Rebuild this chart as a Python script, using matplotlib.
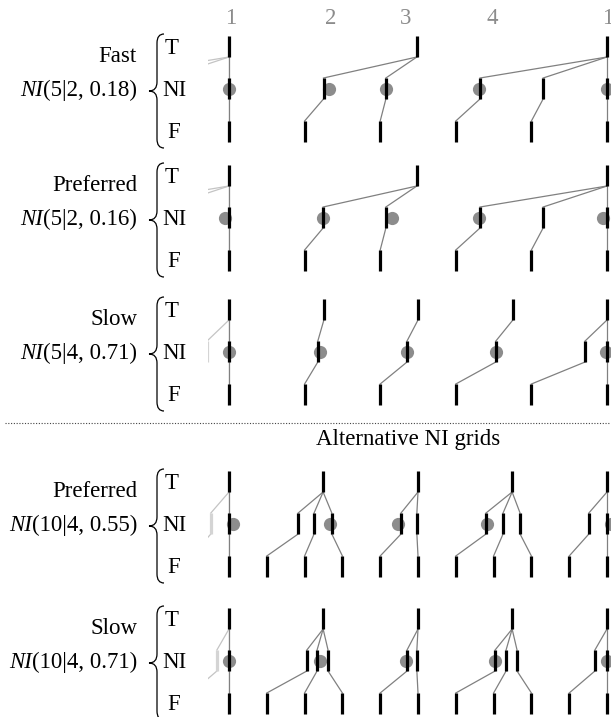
"""
NI grid diagrams: T / NI / F levels per cycle, several grid variants
"""

import matplotlib
matplotlib.use("Agg")
import matplotlib.pyplot as plt
from matplotlib.path import Path
from matplotlib.patches import PathPatch, Rectangle

plt.rcParams['font.family'] = ['Liberation Serif', 'DejaVu Serif']

# period labels along the top (position as fraction of one cycle)
period_labels = ['1', '2', '3', '4', '1']
period_pos = [0.005, 0.27, 0.468, 0.696, 1.003]

row_names = ['Fast', 'Preferred', 'Slow', 'Preferred', 'Slow']
row_params = ['(5|2, 0.18)', '(5|2, 0.16)', '(5|4, 0.71)', '(10|4, 0.55)', '(10|4, 0.71)']

# F grids
f_grid5 = [0.0, 0.2, 0.4, 0.6, 0.8, 1.0]
f_grid10 = [0.0, 0.1, 0.2, 0.3, 0.4, 0.5, 0.6, 0.7, 0.8, 0.9, 1.0]

# row 1 - Fast NI(5|2, 0.18)
t_fast = [0.0, 0.497, 1.0]
ni_fast = [0.0, 0.25, 0.415, 0.664, 0.831, 1.0]
ni_parent_fast = [0, 1, 1, 2, 2, 2]
ni_child_fast = [0, 1, 2, 3, 4, 5]
obs_fast = [0.0, 0.265, 0.415, 0.661, 1.0]

# row 2 - Preferred NI(5|2, 0.16)
t_pref5 = [0.0, 0.497, 1.0]
ni_pref5 = [0.0, 0.249, 0.415, 0.664, 0.831, 1.0]
ni_parent_pref5 = [0, 1, 1, 2, 2, 2]
ni_child_pref5 = [0, 1, 2, 3, 4, 5]
obs_pref5 = [-0.011, 0.249, 0.431, 0.661, 0.989]

# row 3 - Slow NI(5|4, 0.71)
t_slow5 = [0.0, 0.251, 0.5, 0.751, 1.0]
ni_slow5 = [0.0, 0.235, 0.471, 0.706, 0.942, 1.0]
ni_parent_slow5 = [0, 1, 2, 3, 4, 4]
ni_child_slow5 = [0, 1, 2, 3, 4, 5]
obs_slow5 = [0.0, 0.241, 0.471, 0.706, 0.997]

# row 4 - Preferred NI(10|4, 0.55)
t_pref10 = [0.0, 0.249, 0.5, 0.749, 1.0]
ni_pref10 = [0.0, 0.183, 0.225, 0.272, 0.455, 0.497, 0.680, 0.725, 0.770, 0.952, 1.0]
ni_parent_pref10 = [0, 1, 1, 1, 2, 2, 3, 3, 3, 4, 4]
ni_child_pref10 = [0, 1, 2, 3, 4, 5, 6, 7, 8, 9, 10]
obs_pref10 = [0.010, 0.267, 0.447, 0.683, 1.010]

# row 5 - Slow NI(10|4, 0.71)
t_slow10 = [0.0, 0.249, 0.5, 0.749, 1.0]
ni_slow10 = [0.0, 0.206, 0.233, 0.262, 0.471, 0.497, 0.704, 0.733, 0.762, 0.968, 1.0]
ni_parent_slow10 = [0, 1, 1, 1, 2, 2, 3, 3, 3, 4, 4]
ni_child_slow10 = [0, 1, 2, 3, 4, 5, 6, 7, 8, 9, 10]
obs_slow10 = [0.0, 0.241, 0.468, 0.704, 1.0]

rows = [
    (t_fast, ni_fast, ni_parent_fast, f_grid5, ni_child_fast, obs_fast),
    (t_pref5, ni_pref5, ni_parent_pref5, f_grid5, ni_child_pref5, obs_pref5),
    (t_slow5, ni_slow5, ni_parent_slow5, f_grid5, ni_child_slow5, obs_slow5),
    (t_pref10, ni_pref10, ni_parent_pref10, f_grid10, ni_child_pref10, obs_pref10),
    (t_slow10, ni_slow10, ni_parent_slow10, f_grid10, ni_child_slow10, obs_slow10),
]

# layout (pixels from top), cycle start / length in pixels
W, H = 611, 717
X0, CYC = 229.0, 378.0
row_top = [36, 165, 299, 471, 608]
lvl_off = [0, 42, 85]
bar_len = 21
FS = 16.5


def u(px):
    return (px - X0) / CYC


fig = plt.figure(figsize=(W / 100, H / 100), dpi=100)
ax = fig.add_axes([0, 0, 1, 1])
ax.set_xlim(u(0), u(W))
ax.set_ylim(H, 0)
ax.axis('off')


def draw_row(y0, t_pos, ni_pos, parent, f_pos, child, shift=0.0, faded=False, clip=None):
    bar_c = '#d4d4d4' if faded else 'black'
    line_c = '#c4c4c4' if faded else '#808080'
    yt, yn, yf = [y0 + o for o in lvl_off]
    artists = []
    for i, x in enumerate(ni_pos):
        tx = t_pos[parent[i]] + shift
        fx = f_pos[child[i]] + shift
        artists += ax.plot([tx, x + shift], [yt + bar_len, yn], color=line_c, lw=0.9, zorder=1)
        artists += ax.plot([x + shift, fx], [yn + bar_len, yf], color=line_c, lw=0.9, zorder=1)
    for lvl, pos in zip([yt, yn, yf], [t_pos, ni_pos, f_pos]):
        artists.append(ax.vlines([p + shift for p in pos], lvl, lvl + bar_len,
                                 color=bar_c, lw=2.3, zorder=3 if not faded else 1.5))
    if clip is not None:
        for a in artists:
            a.set_clip_path(clip)


def brace(y_top, y_bot, xr=164, xm=157, xt=149):
    ym = (y_top + y_bot) / 2
    r = 9
    verts = [(xr, y_top), (xm, y_top), (xm, y_top + r),
             (xm, ym - r), (xm, ym), (xt, ym),
             (xm, ym), (xm, ym + r),
             (xm, y_bot - r), (xm, y_bot), (xr, y_bot)]
    codes = [Path.MOVETO, Path.CURVE3, Path.CURVE3,
             Path.LINETO, Path.CURVE3, Path.CURVE3,
             Path.CURVE3, Path.CURVE3,
             Path.LINETO, Path.CURVE3, Path.CURVE3]
    verts = [(u(x), y) for x, y in verts]
    ax.add_patch(PathPatch(Path(verts, codes), fill=False, lw=0.9, color='black'))


renderer = fig.canvas.get_renderer()

for k, (t_pos, ni_pos, parent, f_pos, child, obs) in enumerate(rows):
    y0 = row_top[k]
    # previous cycle, faded and clipped near the start
    clip = Rectangle((u(208), 0), u(229) - u(208), H, transform=ax.transData)
    draw_row(y0, t_pos, ni_pos, parent, f_pos, child, shift=-1.0, faded=True, clip=clip)
    draw_row(y0, t_pos, ni_pos, parent, f_pos, child)
    ax.plot(obs, [y0 + lvl_off[1] + bar_len / 2] * len(obs), 'o', color='#8c8c8c',
            ms=9.5, mec='none', zorder=2, clip_on=False)

    # level labels
    for lab, lx, ly in zip(['T', 'NI', 'F'], [165, 162, 167], [18, 60, 102]):
        ax.text(u(lx), y0 + ly, lab, fontsize=FS, ha='left', va='baseline')
    brace(y0 - 2, y0 + 112)

    # row labels
    ax.text(u(137), y0 + 26, row_names[k], fontsize=FS, ha='right', va='baseline')
    tp = ax.text(u(137), y0 + 60, row_params[k], fontsize=FS, ha='right', va='baseline')
    bb = tp.get_window_extent(renderer=renderer)
    x_left = ax.transData.inverted().transform((bb.x0, bb.y0))[0]
    ax.text(x_left, y0 + 60, 'NI', fontsize=FS, style='italic', ha='right', va='baseline')

# period labels
for lab, p in zip(period_labels, period_pos):
    ax.text(p, 18, lab, fontsize=FS, color='#8c8c8c', ha='center', va='center')

# separator
ax.plot([u(5), u(W)], [423, 423], color='#444444', lw=0.8, ls=(0, (1, 1.5)))
ax.text(u(408), 440, 'Alternative NI grids', fontsize=FS, ha='center', va='center')

fig.savefig('out.png', dpi=100)
